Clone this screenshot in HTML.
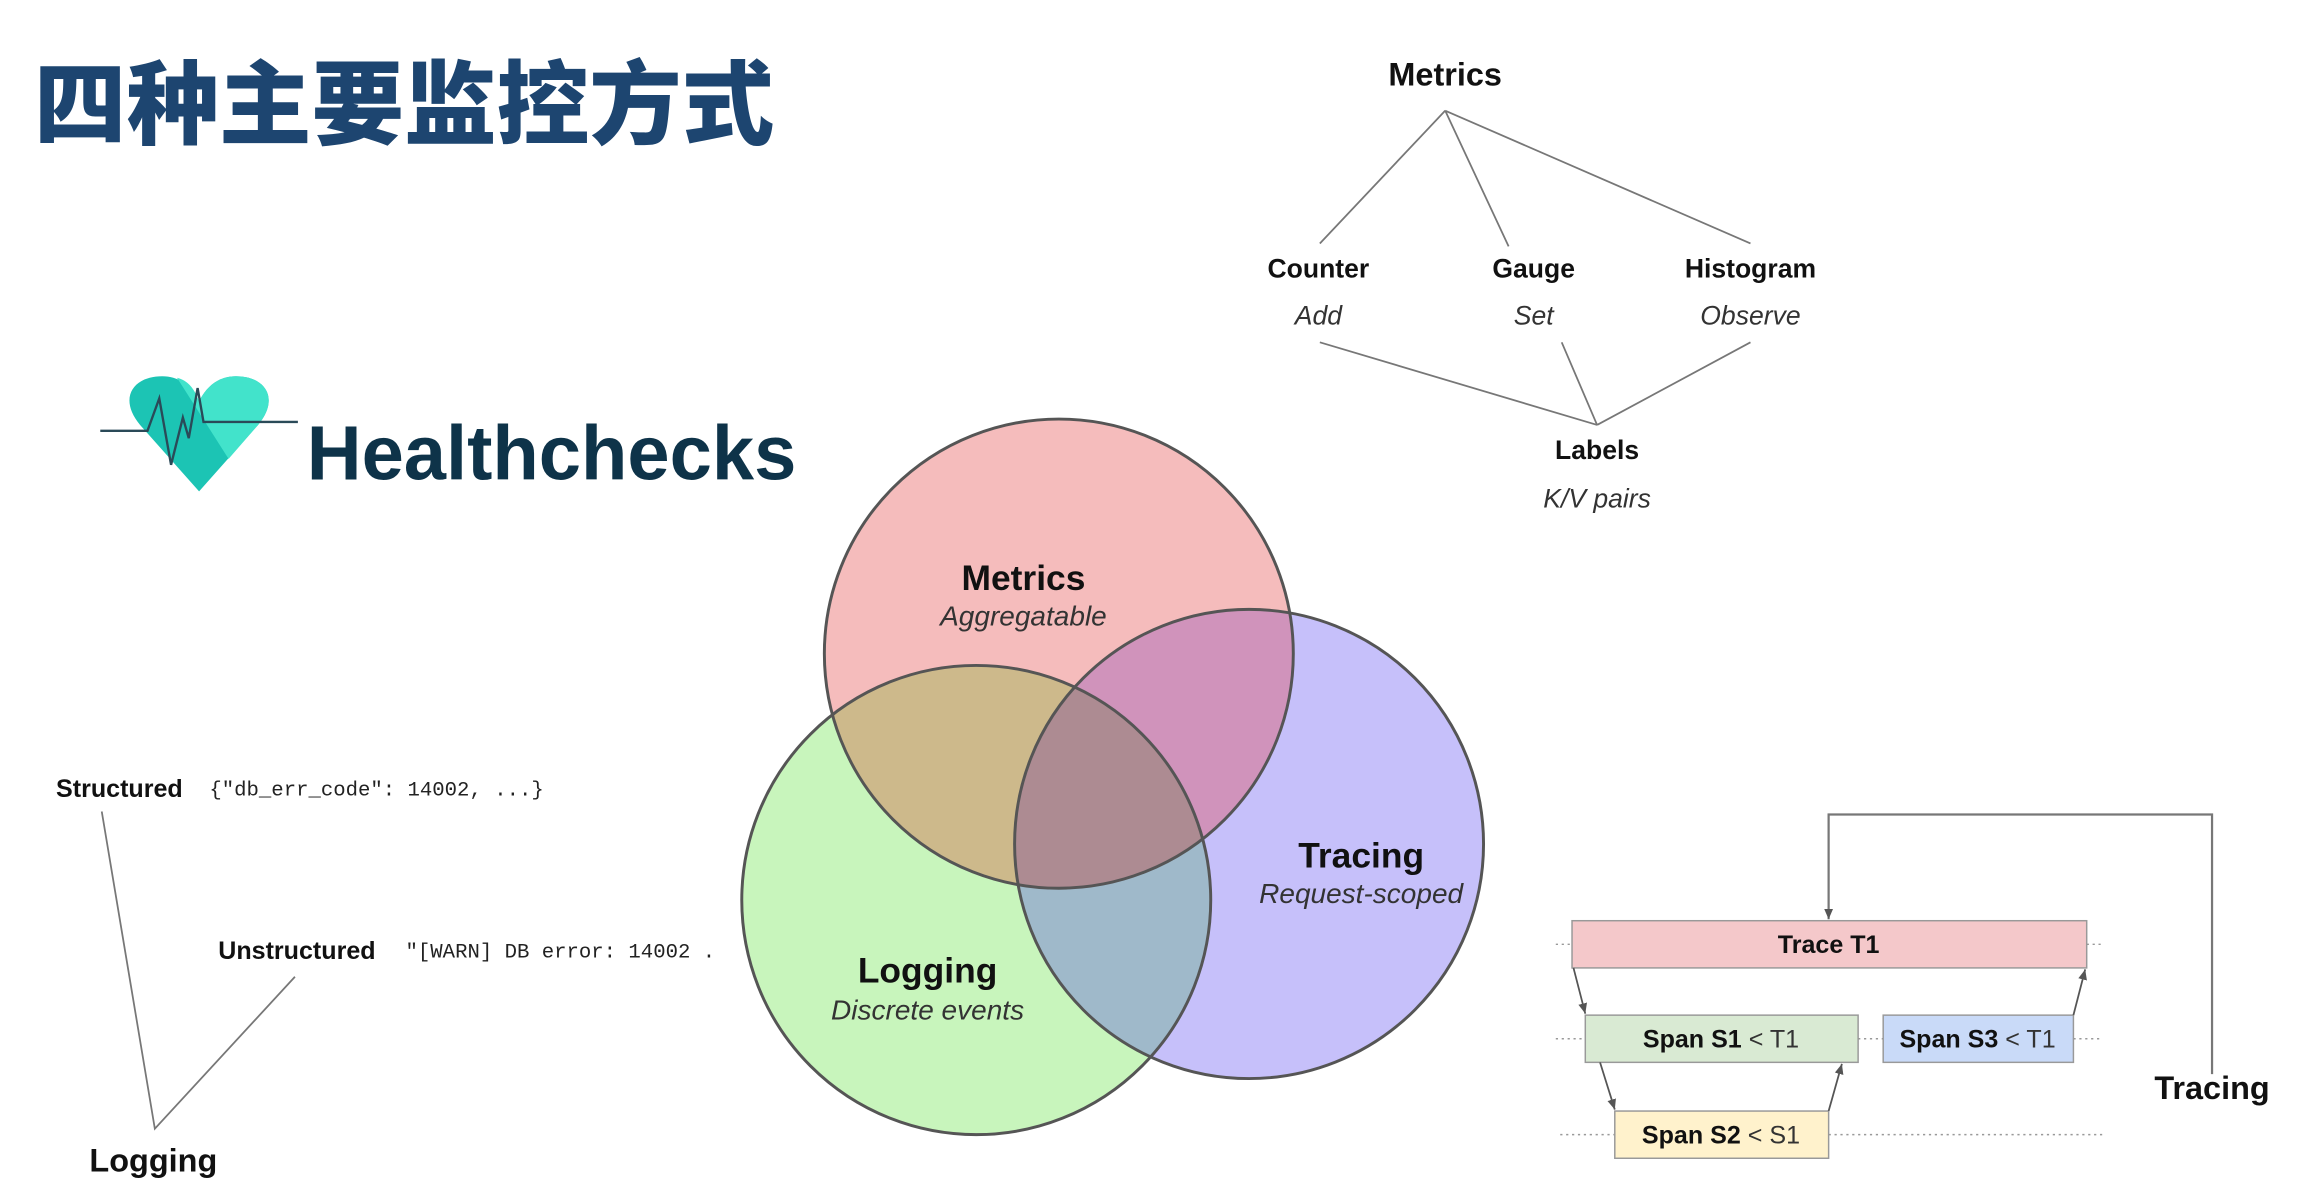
<!DOCTYPE html>
<html><head><meta charset="utf-8"><style>
html,body{margin:0;padding:0;background:#fff;width:2302px;height:1204px;overflow:hidden}
svg{display:block}
text{font-family:"Liberation Sans","Noto Sans CJK SC",sans-serif}
.b{font-weight:bold;fill:#111}
.i{font-style:italic;fill:#333}
.m{font-family:"Liberation Mono",monospace;fill:#222}
</style></head><body>
<svg width="2302" height="1204" viewBox="0 0 1561 816" preserveAspectRatio="none" xmlns="http://www.w3.org/2000/svg">
<defs>
<clipPath id="cm"><circle cx="718" cy="443" r="159"/></clipPath>
<clipPath id="ct"><circle cx="847" cy="572" r="159"/></clipPath>
<clipPath id="cl"><circle cx="662" cy="610" r="159"/></clipPath>
<marker id="ar" markerWidth="8" markerHeight="8" refX="7" refY="4" orient="auto" markerUnits="userSpaceOnUse"><path d="M0,1 L7,4 L0,7 z" fill="#555"/></marker>
</defs>
<!-- title -->
<text x="23" y="93" font-size="62" font-weight="900" fill="#1d4570" font-family="'Noto Sans CJK SC',sans-serif" textLength="502" lengthAdjust="spacingAndGlyphs">四种主要监控方式</text>

<!-- metrics tree -->
<g stroke="#777" stroke-width="1.2" fill="none">
<path d="M980,75 L895,165 M980,75 L1023,167 M980,75 L1187,165"/>
<path d="M895,232 L1083,288 M1059,232 L1083,288 M1187,232 L1083,288"/>
</g>
<g text-anchor="middle">
<text x="980" y="58" font-size="22" class="b">Metrics</text>
<text x="894" y="188" font-size="18" class="b">Counter</text>
<text x="1040" y="188" font-size="18" class="b">Gauge</text>
<text x="1187" y="188" font-size="18" class="b">Histogram</text>
<text x="894" y="220" font-size="18" class="i">Add</text>
<text x="1040" y="220" font-size="18" class="i">Set</text>
<text x="1187" y="220" font-size="18" class="i">Observe</text>
<text x="1083" y="311" font-size="18" class="b">Labels</text>
<text x="1083" y="344" font-size="18" class="i">K/V pairs</text>
</g>

<!-- heart -->
<path d="M135,333 L95,288 C80,270 90,255 110,255 C122,255 130,262 135,272 C140,262 148,255 160,255 C180,255 190,270 175,288 Z" fill="#1cc4b4"/>
<path d="M120,256 C128,258 132,264 135,272 C140,262 148,255 160,255 C180,255 190,270 175,288 L155,311 Z" fill="#42e3cb"/>
<polyline points="68,292 100,292 108,270 116,315 124,283 128,297 134,263 138,286 202,286" fill="none" stroke="#2a4a58" stroke-width="1.6"/>
<text x="208" y="325" font-size="52" font-weight="bold" fill="#0e3349" textLength="332" lengthAdjust="spacingAndGlyphs">Healthchecks</text>

<!-- venn -->
<circle cx="718" cy="443" r="159" fill="#f5bcbc"/>
<circle cx="847" cy="572" r="159" fill="#c6c0fa"/>
<circle cx="662" cy="610" r="159" fill="#c8f5bc"/>
<g clip-path="url(#cm)"><circle cx="662" cy="610" r="159" fill="#cdb98b"/><circle cx="847" cy="572" r="159" fill="#d093bb"/></g>
<g clip-path="url(#ct)"><circle cx="662" cy="610" r="159" fill="#9fb9ca"/></g>
<g clip-path="url(#ct)"><g clip-path="url(#cm)"><circle cx="662" cy="610" r="159" fill="#ad8b92"/></g></g>
<g fill="none" stroke="#555" stroke-width="2">
<circle cx="718" cy="443" r="159"/><circle cx="847" cy="572" r="159"/><circle cx="662" cy="610" r="159"/>
</g>
<g text-anchor="middle">
<text x="694" y="400" font-size="24" class="b">Metrics</text>
<text x="694" y="424" font-size="19" class="i">Aggregatable</text>
<text x="923" y="588" font-size="24" class="b">Tracing</text>
<text x="923" y="612" font-size="19" class="i">Request-scoped</text>
<text x="629" y="666" font-size="24" class="b">Logging</text>
<text x="629" y="691" font-size="19" class="i">Discrete events</text>
</g>

<!-- logging tree -->
<text x="38" y="540" font-size="17" class="b">Structured</text>
<text x="142" y="539" font-size="14" class="m">{"db_err_code": 14002, ...}</text>
<text x="148" y="650" font-size="17" class="b">Unstructured</text>
<text x="275" y="649" font-size="14" class="m">"[WARN] DB error: 14002 .</text>
<path d="M69,550 L105,765 L200,662" fill="none" stroke="#777" stroke-width="1.2"/>
<text x="104" y="794" font-size="22" class="b" text-anchor="middle">Logging</text>

<!-- tracing -->
<path d="M1500,728 L1500,552 L1240,552 L1240,623" fill="none" stroke="#777" stroke-width="1.5" marker-end="url(#ar)"/>
<g stroke="#999" stroke-width="1" stroke-dasharray="1.5,2.5">
<path d="M1055,640 L1066,640 M1415,640 L1426,640"/>
<path d="M1055,704 L1075,704 M1260,704 L1277,704 M1406,704 L1426,704"/>
<path d="M1058,769 L1095,769 M1240,769 L1428,769"/>
</g>
<rect x="1066" y="624" width="349" height="32" fill="#f4c8ca" stroke="#999"/>
<rect x="1075" y="688" width="185" height="32" fill="#d9ead3" stroke="#999"/>
<rect x="1277" y="688" width="129" height="32" fill="#c9daf8" stroke="#999"/>
<rect x="1095" y="753" width="145" height="32" fill="#fff2cc" stroke="#999"/>
<g stroke="#555" stroke-width="1.2" fill="none" marker-end="url(#ar)">
<path d="M1067,656 L1075,687"/>
<path d="M1406,688 L1414,657"/>
<path d="M1085,720 L1095,752"/>
<path d="M1240,753 L1249,721"/>
</g>
<g text-anchor="middle" font-size="17">
<text x="1240" y="646" class="b">Trace T1</text>
<text x="1167" y="710"><tspan class="b">Span S1</tspan><tspan fill="#333"> &lt; T1</tspan></text>
<text x="1341" y="710"><tspan class="b">Span S3</tspan><tspan fill="#333"> &lt; T1</tspan></text>
<text x="1167" y="775"><tspan class="b">Span S2</tspan><tspan fill="#333"> &lt; S1</tspan></text>
</g>
<text x="1500" y="745" font-size="22" class="b" text-anchor="middle">Tracing</text>
</svg>
</body></html>
